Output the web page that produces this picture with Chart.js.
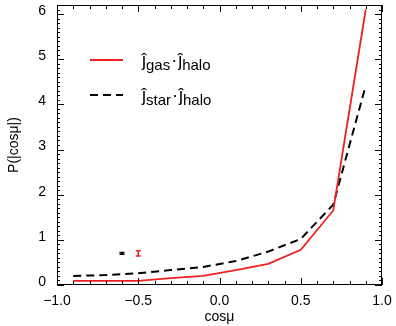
<!DOCTYPE html>
<html>
<head>
<meta charset="utf-8">
<script src="https://cdn.jsdelivr.net/npm/chart.js@4/dist/chart.umd.min.js"></script>
<style>
html, body { margin: 0; padding: 0; background: #fff; }
#wrap { width: 396px; height: 326px; }
</style>
</head>
<body>
<div id="wrap"><canvas id="cosChart"></canvas></div>
<script>
// bin centres of cos(mu) and the two distributions
var cosBins = [-0.9, -0.7, -0.5, -0.3, -0.1, 0.1, 0.3, 0.5, 0.7, 0.9];
var gasHalo = [0.09, 0.09, 0.09, 0.15, 0.2, 0.33, 0.47, 0.78, 1.65, 6.1];
var starHalo = [0.2, 0.22, 0.26, 0.33, 0.4, 0.53, 0.74, 1.02, 1.78, 4.42];

// the two typical error bars
var errX = [-0.6, -0.5];
var errY = [0.7, 0.7];
var errSize = [0.02, 0.06];
var errColors = ['#000000', '#f02020'];

var xTicks = [-1.0, -0.5, 0.0, 0.5, 1.0];
var yTicks = [0, 1, 2, 3, 4, 5, 6];

var FONT = "'Liberation Sans', Arial, sans-serif";

function toPoints(xs, ys) {
  return xs.map(function(x, i) { return {x: x, y: ys[i]}; });
}

var frameTicks = {
  id: 'frameTicks',
  afterDraw: function(chart) {
    var ctx = chart.ctx;
    var a = chart.chartArea;
    var xs = chart.scales.x, ys = chart.scales.y;
    ctx.save();
    ctx.strokeStyle = '#000';
    ctx.lineWidth = 1;
    ctx.strokeRect(a.left + 0.5, a.top + 0.5, a.right - a.left - 1, a.bottom - a.top - 1);
    ctx.beginPath();
    for (var i = -10; i <= 10; i++) {
      var px = Math.round(xs.getPixelForValue(i / 10)) + 0.5;
      var len = (i % 5 === 0) ? 7 : 4;
      ctx.moveTo(px, a.bottom); ctx.lineTo(px, a.bottom - len);
      ctx.moveTo(px, a.top); ctx.lineTo(px, a.top + len);
    }
    for (var j = 0; j <= 62; j++) {
      var py = Math.round(ys.getPixelForValue(j / 10)) + 0.5;
      var ylen = (j % 10 === 0) ? 7 : 3;
      ctx.moveTo(a.left, py); ctx.lineTo(a.left + ylen, py);
      ctx.moveTo(a.right, py); ctx.lineTo(a.right - ylen, py);
    }
    ctx.stroke();
    ctx.restore();
  }
};

var errorBars = {
  id: 'errorBars',
  afterDatasetsDraw: function(chart) {
    var ctx = chart.ctx;
    var xs = chart.scales.x, ys = chart.scales.y;
    ctx.save();
    ctx.lineWidth = 1.5;
    for (var i = 0; i < errX.length; i++) {
      var px = xs.getPixelForValue(errX[i]);
      var top = ys.getPixelForValue(errY[i] + errSize[i]);
      var bot = ys.getPixelForValue(errY[i] - errSize[i]);
      ctx.strokeStyle = errColors[i];
      ctx.beginPath();
      ctx.moveTo(px, top); ctx.lineTo(px, bot);
      ctx.moveTo(px - 2.5, top); ctx.lineTo(px + 2.5, top);
      ctx.moveTo(px - 2.5, bot); ctx.lineTo(px + 2.5, bot);
      ctx.stroke();
    }
    ctx.restore();
  }
};

function drawLabel(ctx, x, y, parts) {
  parts.forEach(function(p) {
    ctx.font = (p.sub ? '15px ' : '18px ') + FONT;
    ctx.fillText(p.t, x, y + (p.sub ? 4 : 0));
    x += ctx.measureText(p.t).width + (p.gap || 0);
  });
}

var legendLabels = {
  id: 'legendLabels',
  afterDraw: function(chart) {
    var ctx = chart.ctx;
    var a = chart.chartArea;
    var x0 = a.left + 33, x1 = a.left + 66, tx = a.left + 85;
    var y1 = a.top + 55, y2 = a.top + 90;
    ctx.save();
    ctx.lineWidth = 2;
    ctx.strokeStyle = '#f02020';
    ctx.beginPath(); ctx.moveTo(x0, y1); ctx.lineTo(x1, y1); ctx.stroke();
    ctx.strokeStyle = '#000';
    ctx.setLineDash([8, 5]);
    ctx.beginPath(); ctx.moveTo(x0, y2); ctx.lineTo(x1, y2); ctx.stroke();
    ctx.setLineDash([]);
    ctx.fillStyle = '#000';
    ctx.textBaseline = 'alphabetic';
    drawLabel(ctx, tx, y1 + 6, [{t: '\u0135'}, {t: 'gas', sub: true, gap: 1}, {t: '\u00b7', gap: 1}, {t: '\u0135'}, {t: 'halo', sub: true}]);
    drawLabel(ctx, tx, y2 + 6, [{t: '\u0135'}, {t: 'star', sub: true, gap: 1}, {t: '\u00b7', gap: 1}, {t: '\u0135'}, {t: 'halo', sub: true}]);
    ctx.restore();
  }
};

var ctx = document.getElementById('cosChart').getContext('2d');
var cosChart = new Chart(ctx, {
  type: 'scatter',
  data: {
    datasets: [{
      label: 'gas-halo',
      data: toPoints(cosBins, gasHalo),
      showLine: true,
      borderColor: '#f02020',
      borderWidth: 1.8,
      pointRadius: 0,
      tension: 0
    }, {
      label: 'star-halo',
      data: toPoints(cosBins, starHalo),
      showLine: true,
      borderColor: '#000000',
      borderWidth: 2,
      borderDash: [8, 5],
      pointRadius: 0,
      tension: 0
    }]
  },
  options: {
    responsive: true,
    maintainAspectRatio: false,
    animation: false,
    layout: { padding: { top: 5, right: 14, left: 0, bottom: 0 } },
    plugins: { legend: { display: false }, tooltip: { enabled: false } },
    scales: {
      x: {
        type: 'linear',
        min: -1,
        max: 1,
        grid: { display: false, drawTicks: false },
        border: { display: false },
        afterBuildTicks: function(scale) {
          scale.ticks = xTicks.map(function(v) { return {value: v}; });
        },
        afterFit: function(scale) {
          scale.height = 41;
          scale.paddingLeft = 0;
          scale.paddingRight = 0;
        },
        ticks: {
          padding: 8,
          color: '#000',
          font: { family: FONT, size: 14 },
          maxRotation: 0,
          callback: function(v) { return v.toFixed(1).replace('-', '\u2212'); }
        },
        title: {
          display: true,
          text: 'cos\u03bc',
          color: '#000',
          padding: { top: 0, bottom: 0 },
          font: { family: FONT, size: 14 }
        }
      },
      y: {
        min: 0,
        max: 6.2,
        grid: { display: false, drawTicks: false },
        border: { display: false },
        afterBuildTicks: function(scale) {
          scale.ticks = yTicks.map(function(v) { return {value: v}; });
        },
        afterFit: function(scale) {
          scale.width = 57;
          scale.paddingTop = 0;
          scale.paddingBottom = 0;
        },
        ticks: {
          padding: 11,
          color: '#000',
          labelOffset: -3,
          font: { family: FONT, size: 14 },
          callback: function(v) { return String(v); }
        },
        title: {
          display: true,
          text: 'P(|cos\u03bc|)',
          color: '#000',
          padding: { top: 6, bottom: 0 },
          font: { family: FONT, size: 14 }
        }
      }
    }
  },
  plugins: [frameTicks, errorBars, legendLabels]
});
</script>
</body>
</html>
